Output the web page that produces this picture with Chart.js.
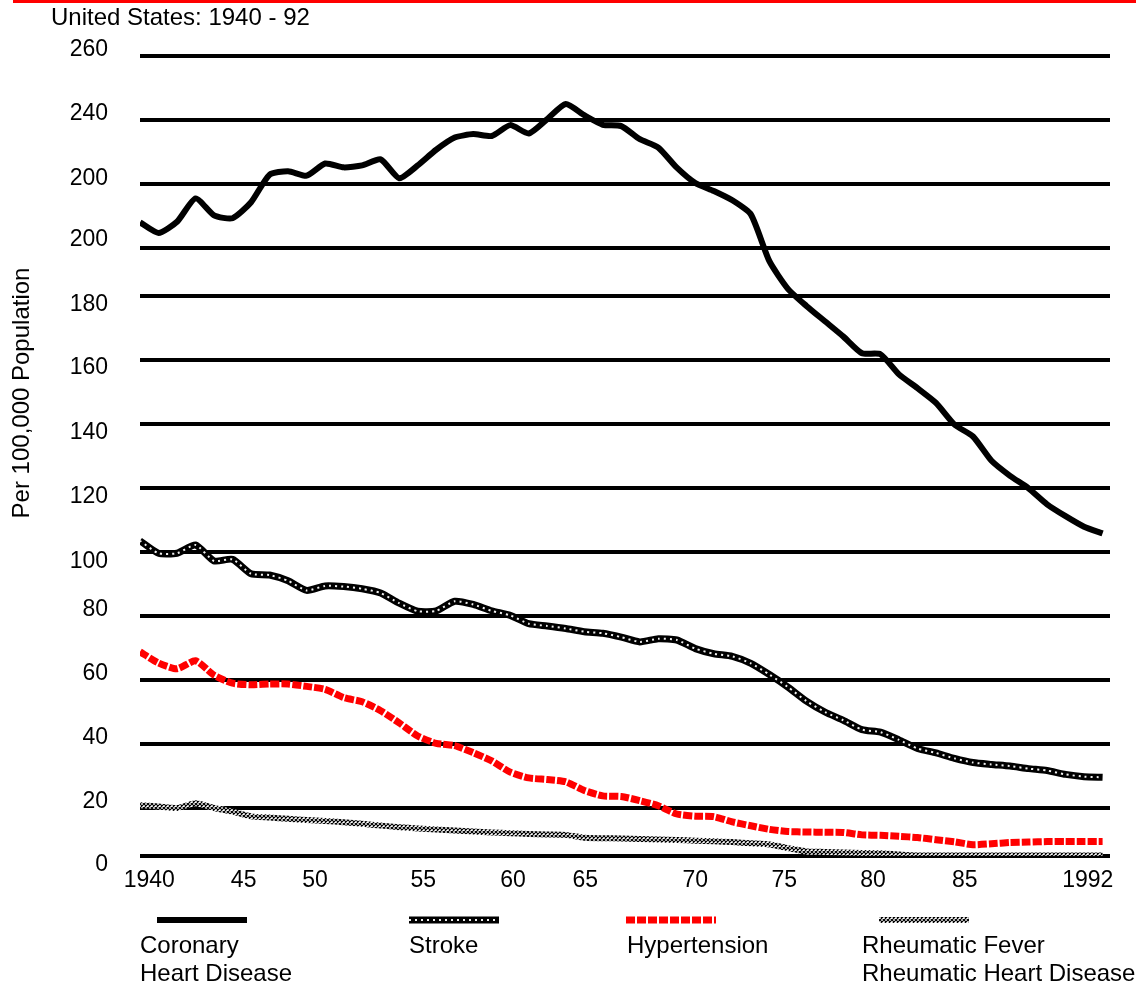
<!DOCTYPE html>
<html>
<head>
<meta charset="utf-8">
<title>Cardiovascular death rates, United States 1940 - 92</title>
<script src="https://cdn.jsdelivr.net/npm/chart.js@4.4.1/dist/chart.umd.min.js"></script>
<style>
	body{margin:0;background:#fff;}
	#plot{display:block;}
</style>
</head>
<body>
<canvas id="plot" width="1136" height="985"></canvas>
<script>
// one value per year, per 100,000 population
years=[1940,1941,1942,1943,1944,1945,1946,1947,1948,1949,
	1950,1951,1952,1953,1954,1955,1956,1957,1958,1959,
	1960,1961,1962,1963,1964,1965,1966,1967,1968,1969,
	1970,1971,1972,1973,1974,1975,1976,1977,1978,1979,
	1980,1981,1982,1983,1984,1985,1986,1987,1988,1989,
	1990,1991,1992];
coronary=[208,204.7,208.2,215.5,210.2,209.3,214.3,222.9,224,222.6,
	226.4,225.2,225.8,227.7,221.8,225.8,230.7,234.5,235.6,235,
	238.4,235.8,240.3,245,241.5,238.5,238.1,234,231.4,225.1,
	220.3,217.8,214.9,210.5,194.5,183,176.9,172.1,167.3,162.1,
	161.8,155.5,151.2,146.6,139.8,136.1,128.5,123.8,119.9,114.9,
	111.2,107.9,105.8];
stroke=[103.5,99.6,99.6,102.2,97.2,97.7,93.2,92.8,91,88,
	89.4,89.2,88.5,87.2,84,81.5,81.6,84.6,83.6,81.6,
	80.2,77.6,76.9,76.1,75.1,74.6,73.4,71.9,72.9,72.5,
	69.8,68.2,67.4,65.2,61.7,57.8,53.4,50,47.4,44.5,
	43.7,41.3,38.6,37.2,35.5,34.2,33.6,33.1,32.3,31.7,
	30.5,29.8,29.6];
hypertension=[68.8,65.3,63.5,66,61.5,59,58.5,58.75,58.75,58,
	57.1,54.5,53.2,50.4,46.6,42.5,40.2,39.5,37.3,34.7,
	31.2,29.4,28.9,28.2,25.5,23.8,23.6,22.3,20.7,17.5,
	16.6,16.4,14.2,12.6,11.1,10.2,10,9.9,9.8,8.8,
	8.6,8.2,7.7,6.8,5.9,4.7,5.1,5.6,5.8,6,
	6,6,6];
rheumatic=[20.9,20.5,20,21.5,20,18.5,16.5,16,15.5,15,
	14.6,14.1,13.4,12.7,12,11.5,11,10.6,10.2,9.8,
	9.5,9.2,9,8.8,7.6,7.4,7.3,7.1,6.9,6.7,
	6.4,6.1,5.8,5.3,4.8,3.3,1.9,1.7,1.5,1.3,
	1.1,0.6,0.2,0.2,0.2,0.2,0.2,0.2,0.2,0.2,
	0.2,0.2,0.2];

// y axis: values of the gridlines and the labels printed next to them
// (the original prints "200" twice; the upper one stands for 220)
yTickValues=[0,20,40,60,80,100,120,140,160,180,200,220,240,260];
yTickLabels=['0','20','40','60','80','100','120','140','160','180','200','200','240','260'];
xTickLabels=['1940','45','50','55','60','65','70','75','80','85','1992'];

legendNames=[['Coronary','Heart Disease'],['Stroke'],['Hypertension'],['Rheumatic Fever','Rheumatic Heart Disease']];

// ---- layout (not data) ----
// the original axis is uneven: height of each gridline above the baseline, px
gridHeight=[0,48,112,176,240,304,368,432,496,560,608,672,736,800];
// printed y labels sit a little off their gridlines (px, + = up)
yLabelNudge=[-9,6,6,6,6,-10,-9,-9,-8,-9,8,5,6,6];
// where the x labels sit, in years
xLabelAt=[1940.5,1945.6,1949.45,1955.3,1960.15,1964.05,1970,1974.8,1979.6,1984.55,1991.2];
legendSampleX=[157,409,626,879];
legendTextX=[140,409,627,862];

FONT="'Liberation Sans', Arial, Helvetica, sans-serif";

// piecewise mapping value -> px height, following the printed gridlines
function warp(v){
	var i=0;
	while (i<yTickValues.length-2 && v>yTickValues[i+1]) i++;
	var v0=yTickValues[i], v1=yTickValues[i+1];
	return gridHeight[i]+(v-v0)/(v1-v0)*(gridHeight[i+1]-gridHeight[i]);
}
function unwarp(h){
	var i=0;
	while (i<gridHeight.length-2 && h>gridHeight[i+1]) i++;
	var h0=gridHeight[i], h1=gridHeight[i+1];
	return yTickValues[i]+(h-h0)/(h1-h0)*(yTickValues[i+1]-yTickValues[i]);
}

class BrokenScale extends Chart.LinearScale {
	static id='broken';
	static defaults=Chart.LinearScale.defaults;
	getPixelForValue(value){
		return this.getPixelForDecimal(warp(value)/warp(this.max));
	}
	getValueForPixel(pixel){
		return unwarp(this.getDecimalForPixel(pixel)*warp(this.max));
	}
}
Chart.register(BrokenScale);

plot=document.getElementById("plot");
ctx0=plot.getContext("2d");

// grey cross-hatch used for the rheumatic line
function makeHatch(){
	var c=document.createElement("canvas");
	c.width=4;c.height=4;
	var g=c.getContext("2d");
	g.fillStyle="#fff";g.fillRect(0,0,4,4);
	g.strokeStyle="#000";g.lineWidth=1.2;
	g.beginPath();g.moveTo(0,0);g.lineTo(4,4);g.moveTo(4,0);g.lineTo(0,4);g.stroke();
	return ctx0.createPattern(c,"repeat");
}
hatch=makeHatch();

function pts(arr){
	return arr.map((v,i)=>({x:years[i],y:v}));
}

// how each series is stroked (also used for the legend samples)
styles=[
	[{color:"#000",width:6,dash:[]}],
	[{color:"#000",width:7,dash:[]},{color:"#f0f0f0",width:2,dash:[2,4]}],
	[{color:"#f00",width:7,dash:[9,2]}],
	[{color:hatch,width:6,dash:[]}]
];

function line(label,values,st,order){
	return {
		label:label,
		data:pts(values),
		borderColor:st.color,
		borderWidth:st.width,
		borderDash:st.dash,
		borderCapStyle:"butt",
		borderJoinStyle:"round",
		pointRadius:0,
		tension:0.2,
		fill:false,
		order:order
	};
}

const decor={
	id:"decor",
	beforeDraw(chart){
		var c=chart.ctx;
		c.save();
		c.fillStyle="#ff0000";
		c.fillRect(13,0,1123,3);
		c.restore();
	},
	afterDraw(chart){
		var c=chart.ctx;
		c.save();
		c.fillStyle="#000";
		c.font="24px "+FONT;
		c.textAlign="left";
		c.textBaseline="alphabetic";
		c.fillText("United States: 1940 - 92",51,25);
		// y title
		c.save();
		c.translate(22,393);
		c.rotate(-Math.PI/2);
		c.textAlign="center";
		c.textBaseline="middle";
		c.fillText("Per 100,000 Population",0,0);
		c.restore();
		// legend
		for (var i=0;i<legendNames.length;i++){
			var x0=legendSampleX[i];
			styles[i].forEach(function(st){
				c.strokeStyle=st.color;
				c.lineWidth=st.width;
				c.setLineDash(st.dash);
				c.lineCap="butt";
				c.beginPath();
				c.moveTo(x0,920);
				c.lineTo(x0+90,920);
				c.stroke();
			});
			c.setLineDash([]);
			legendNames[i].forEach(function(t,k){
				c.fillText(t,legendTextX[i],953+k*28);
			});
		}
		c.restore();
	}
};

const config={
	type:"line",
	data:{
		datasets:[
			line("Coronary Heart Disease",coronary,styles[0][0],1),
			line("Stroke",stroke,styles[1][0],2),
			line("Stroke dots",stroke,styles[1][1],1),
			line("Hypertension",hypertension,styles[2][0],1),
			line("Rheumatic Fever / Rheumatic Heart Disease",rheumatic,styles[3][0],1)
		]
	},
	options:{
		responsive:false,
		animation:false,
		layout:{padding:{left:0,right:26,top:56,bottom:89}},
		plugins:{legend:{display:false},tooltip:{enabled:false},title:{display:false}},
		scales:{
			x:{
				type:"linear",
				min:1940,
				max:1992.4,
				grid:{display:false,drawTicks:false},
				border:{display:false},
				afterBuildTicks:function(s){s.ticks=xLabelAt.map(v=>({value:v}));},
				afterFit:function(s){s.height=40;},
				ticks:{
					autoSkip:false,
					maxRotation:0,
					padding:11,
					color:"#000",
					font:{size:23,family:FONT},
					callback:function(v,i){return xTickLabels[i];}
				}
			},
			y:{
				type:"broken",
				position:"left",
				min:0,
				max:260,
				border:{display:false},
				grid:{color:"#000",lineWidth:4,drawTicks:false},
				afterBuildTicks:function(s){s.ticks=yTickValues.map(v=>({value:v}));},
				afterFit:function(s){s.width=0;},
				ticks:{display:false}
			},
			yLab:{
				type:"linear",
				position:"left",
				min:0,
				max:800,
				border:{display:false},
				grid:{display:false,drawTicks:false},
				afterBuildTicks:function(s){s.ticks=gridHeight.map((h,i)=>({value:h+yLabelNudge[i]}));},
				afterFit:function(s){s.width=140;},
				ticks:{
					autoSkip:false,
					padding:32,
					color:"#000",
					font:{size:23,family:FONT},
					callback:function(v,i){return yTickLabels[i];}
				}
			}
		}
	},
	plugins:[decor]
};
const myChart=new Chart(plot,config);
</script>
</body>
</html>
